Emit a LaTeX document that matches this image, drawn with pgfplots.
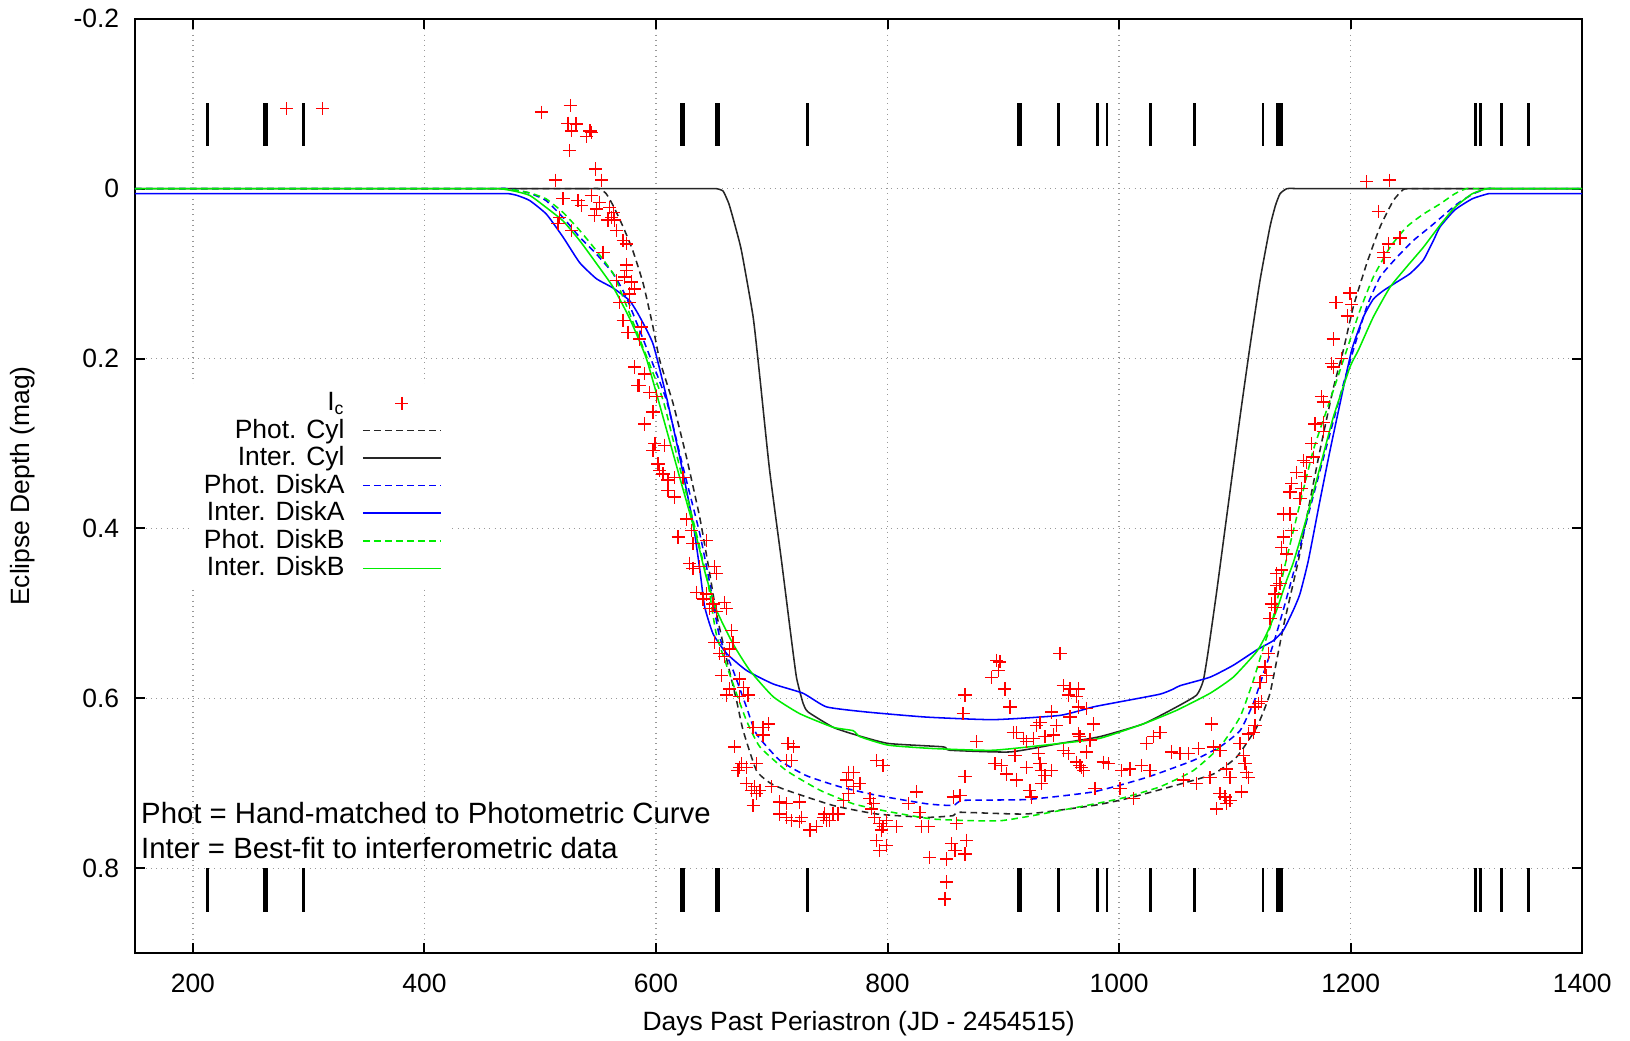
\documentclass[border=0pt]{standalone}
\usepackage{fontspec}
\setmainfont{Liberation Sans}
\usepackage{pgfplots}
\pgfplotsset{compat=1.18}
\pgfplotsset{
  leg/.style={legend image code/.code={\draw[mark repeat=2,mark phase=2] plot coordinates {(0cm,0cm) (0.62cm,0cm) (1.245cm,0cm)};}},
  curve/.style={line width=0.7pt, smooth, tension=0.3, leg},
}
\definecolor{cblue}{rgb}{0,0,1}
\definecolor{cgreen}{rgb}{0,0.93,0}

% bars: observation epochs (days)
\pgfplotstableread{
x y
212.6 -0.1006
212.6 -0.0496
212.6 nan
295.2 -0.1006
295.2 -0.0496
295.2 nan
730.9 -0.1006
730.9 -0.0496
730.9 nan
1027.3 -0.1006
1027.3 -0.0496
1027.3 nan
1124.3 -0.1006
1124.3 -0.0496
1124.3 nan
1307.5 -0.1006
1307.5 -0.0496
1307.5 nan
1312 -0.1006
1312 -0.0496
1312 nan
1330 -0.1006
1330 -0.0496
1330 nan
947.3 -0.1006
947.3 -0.0496
947.3 nan
981.5 -0.1006
981.5 -0.0496
981.5 nan
989.5 -0.1006
989.5 -0.0496
989.5 nan
1065 -0.1006
1065 -0.0496
1065 nan
1353.4 -0.1006
1353.4 -0.0496
1353.4 nan
212.6 0.800
212.6 0.851
212.6 nan
295.2 0.800
295.2 0.851
295.2 nan
730.9 0.800
730.9 0.851
730.9 nan
1027.3 0.800
1027.3 0.851
1027.3 nan
1124.3 0.800
1124.3 0.851
1124.3 nan
1307.5 0.800
1307.5 0.851
1307.5 nan
1312 0.800
1312 0.851
1312 nan
1330 0.800
1330 0.851
1330 nan
947.3 0.800
947.3 0.851
947.3 nan
981.5 0.800
981.5 0.851
981.5 nan
989.5 0.800
989.5 0.851
989.5 nan
1065 0.800
1065 0.851
1065 nan
1353.4 0.800
1353.4 0.851
}\barsthin
\pgfplotstableread{
x y
262.9 -0.1006
262.9 -0.0496
262.9 nan
623.1 -0.1006
623.1 -0.0496
623.1 nan
652.8 -0.1006
652.8 -0.0496
652.8 nan
914.1 -0.1006
914.1 -0.0496
914.1 nan
262.9 0.800
262.9 0.851
262.9 nan
623.1 0.800
623.1 0.851
623.1 nan
652.8 0.800
652.8 0.851
652.8 nan
914.1 0.800
914.1 0.851
}\barsthick
\pgfplotstableread{
x y
1138.7 -0.1006
1138.7 -0.0496
1138.7 nan
1138.7 0.800
1138.7 0.851
}\barsxthick

\pgfplotstableread{
x y
281 -0.094
312 -0.094
501 -0.090
526 -0.098
524 -0.077
531 -0.076
527 -0.068
543 -0.068
544 -0.066
540 -0.061
525 -0.045
548 -0.023
553 -0.010
513 -0.010
519.7 0.012
532.7 0.014
535.5 0.020
544 0.008
551 0.016
548.5 0.024
547 0.032
560 0.022
563 0.028
561.5 0.034
564.4 0.037
558.6 0.037
565.8 0.049
571.6 0.061
574.4 0.065
516.8 0.034
515.4 0.041
527 0.049
565.8 0.108
587.4 0.163
554.3 0.075
574.4 0.090
574.4 0.096
573 0.104
578.8 0.110
581.6 0.118
577.3 0.124
568.7 0.134
577.3 0.134
571.6 0.155
575.9 0.169
586 0.177
581.6 0.210
590.3 0.218
584.5 0.232
586 0.232
594.6 0.240
600.4 0.245
597.5 0.263
590.3 0.277
599 0.300
607.6 0.302
597.5 0.308
601.8 0.324
603.2 0.332
606.1 0.336
610.4 0.343
616.2 0.340
623.4 0.340
610.4 0.355
616.2 0.363
626.3 0.389
630.6 0.402
619.1 0.410
632 0.418
643.6 0.414
629.2 0.441
632 0.447
637.8 0.445
650.8 0.445
652.2 0.453
634.9 0.475
643.6 0.477
640.7 0.483
649.3 0.489
646.5 0.494
652.2 0.498
659.4 0.487
660.9 0.494
665.2 0.520
650.8 0.534
666.6 0.534
655.1 0.547
659.4 0.551
663.7 0.542
656.5 0.573
660.9 0.596
672.4 0.577
675.3 0.587
679.6 0.596
663.7 0.589
672.4 0.598
683.9 0.634
692.5 0.634
696.9 0.630
692.5 0.643
668 0.657
672.4 0.681
673.8 0.677
670.9 0.685
678.1 0.681
686.8 0.677
714.1 0.653
718.5 0.657
712.7 0.673
717 0.673
678.1 0.700
682.5 0.708
685.3 0.704
686.8 0.712
689.7 0.708
699.7 0.704
683.9 0.726
706.9 0.722
712.7 0.724
724.2 0.722
706.9 0.736
712.7 0.740
717 0.744
724.2 0.745
725.7 0.740
732.9 0.755
738.6 0.751
744.4 0.740
747.3 0.744
750.1 0.744
745.8 0.736
753 0.736
757.3 0.736
761.7 0.720
766 0.687
770.3 0.687
764.5 0.696
770.3 0.704
776.1 0.700
766 0.712
784.7 0.718
787.6 0.724
786.1 0.730
789 0.740
793.3 0.747
796.2 0.751
794.8 0.755
799.1 0.744
790.5 0.673
796.2 0.679
807.7 0.751
799.1 0.773
790.5 0.767
793.3 0.779
825 0.710
817.8 0.724
827.9 0.734
829.3 0.751
835.1 0.751
836.5 0.787
851 0.789
851 0.816
849.5 0.836
856.7 0.716
862.5 0.714
859.6 0.747
855.3 0.771
858.2 0.779
868.2 0.767
866.8 0.783
866.8 0.692
866.8 0.596
865.3 0.618
876.9 0.651
892.7 0.677
894.2 0.555
889.8 0.575
895.6 0.567
897 0.557
901.3 0.589
905.7 0.610
948.9 0.547
951.8 0.585
957.5 0.589
964.7 0.589
956.1 0.596
963.3 0.598
964.7 0.610
971.9 0.612
941.7 0.616
957.5 0.622
977.7 0.630
946 0.632
931.6 0.628
928.7 0.632
911.4 0.640
908.5 0.640
917.2 0.647
920 0.651
925.8 0.647
935.9 0.645
943.1 0.643
964.7 0.642
966.1 0.645
974.8 0.649
951.8 0.661
956.1 0.665
910 0.667
930.1 0.665
971.9 0.663
898.5 0.679
920 0.681
931.6 0.677
933 0.685
941.7 0.685
935.9 0.691
963.3 0.675
966.1 0.679
969 0.685
967.6 0.681
902.8 0.689
911.4 0.696
933 0.700
922.9 0.708
924.4 0.716
986.3 0.675
990.6 0.677
1002.2 0.685
1009.3 0.683
1019.4 0.679
1026.6 0.685
1023.7 0.653
1029.5 0.645
1035.3 0.640
1045.4 0.663
1052.6 0.665
1059.8 0.665
1068.4 0.659
1079.9 0.630
1081.4 0.657
1087.1 0.661
1078.5 0.693
1055.4 0.696
1067 0.700
1092.9 0.683
1095.8 0.693
1104.4 0.653
1111.6 0.642
1117.4 0.632
1116 0.640
1107.3 0.667
1108.7 0.677
1110.2 0.687
1111.6 0.693
1105.8 0.710
1087.1 0.712
1091.4 0.716
1092.9 0.724
1084.2 0.730
1095.8 0.720
979.1 0.706
1000.7 0.706
1012.2 0.718
1128.9 0.547
1126 0.563
1127.4 0.573
1121.7 0.581
1120.2 0.606
1123.1 0.604
1117.4 0.610
1183.6 0.206
1185 0.210
1192.2 0.200
1174.9 0.245
1176.4 0.251
1169.2 0.277
1176.4 0.275
1176.4 0.286
1166.3 0.300
1167.7 0.316
1159.1 0.320
1162 0.322
1153.3 0.334
1160.5 0.339
1149 0.347
1157.7 0.353
1147.6 0.357
1156.2 0.365
1141.8 0.383
1147.6 0.383
1149 0.402
1141.8 0.410
1140.4 0.422
1144.7 0.430
1140.4 0.449
1136 0.453
1138.9 0.465
1136 0.467
1134.6 0.477
1131.7 0.489
1134.6 0.493
1130.3 0.506
1213.9 -0.008
1233.4 -0.010
1223.9 0.027
1232.6 0.065
1242.7 0.058
1228.3 0.075
1228.8 0.081
1199.4 0.123
1187.4 0.134
1200.9 0.136
1197.1 0.150
1185 0.177
}\icdata

\pgfplotstableread{
x y
150 0
520 0
530 0
541 0
551 0
557 0.006
563 0.020
571.6 0.045
580 0.073
589 0.112
597 0.160
603.2 0.202
614.8 0.253
626.3 0.316
637.8 0.387
646 0.450
652.2 0.500
660.9 0.553
669.5 0.602
675.3 0.638
686.8 0.685
699 0.700
712.7 0.708
753 0.726
790.5 0.736
833.7 0.740
856.7 0.738
862.5 0.734
920 0.736
977.7 0.726
1006.5 0.718
1049.7 0.702
1081.4 0.689
1101.5 0.669
1118.8 0.634
1130.3 0.594
1141.8 0.516
1154.8 0.438
1162 0.387
1173.5 0.308
1185 0.235
1193.7 0.190
1202.3 0.139
1213.9 0.088
1225.4 0.045
1236.9 0.014
1245.5 0.001
1253 0
1262 0
1272 0
1282 0
1400 0
}\photcyl

\pgfplotstableread{
x y
150 0
620 0
630 0
641 0
652 0
658 0.003
663 0.018
668 0.042
673.8 0.073
683.9 0.151
689.7 0.222
698 0.330
708.4 0.438
715.6 0.516
721.3 0.575
727.1 0.606
731.4 0.616
753 0.634
770.3 0.642
800.5 0.653
848.1 0.657
853.8 0.661
905.7 0.663
948.9 0.653
983.4 0.645
1020.9 0.630
1049.7 0.610
1067 0.596
1072.7 0.579
1077 0.544
1084.2 0.475
1092.8 0.387
1104.4 0.269
1113 0.186
1121.7 0.108
1130.3 0.045
1135 0.020
1139 0.006
1145 0
1155 0
1165 0
1175 0
1400 0
}\intercyl

\pgfplotstableread{
x y
150 0
440 0
450 0
461 0
472 0
490 0.005
505 0.014
519.7 0.034
534 0.057
548.5 0.077
563 0.100
574.4 0.128
591.7 0.187
609 0.249
623.4 0.328
637.8 0.406
646.5 0.465
655 0.528
666.6 0.567
678.1 0.610
686.8 0.642
707 0.673
730 0.691
758.8 0.704
790.5 0.714
833.7 0.724
856.7 0.726
865.3 0.720
920 0.719
977.7 0.710
1023.8 0.693
1064 0.673
1087.1 0.657
1104.4 0.638
1115.9 0.606
1124.6 0.571
1133.2 0.536
1141.8 0.496
1153.4 0.438
1159.1 0.406
1170.6 0.347
1182.2 0.288
1193.7 0.230
1202.3 0.190
1213.9 0.139
1225.4 0.104
1239.8 0.081
1254.2 0.061
1268.6 0.045
1277.2 0.035
1292 0.018
1306 0.006
1318 0
1328 0
1338 0
1348 0
1400 0
}\photdiska

\pgfplotstableread{
x y
150 0.006
441 0.006
451 0.006
462 0.006
473 0.006
480 0.008
490.9 0.014
505.3 0.030
519.7 0.057
534 0.087
548.5 0.106
563 0.117
577.3 0.132
586 0.151
597.5 0.183
609 0.245
620.5 0.316
632 0.394
638 0.450
642 0.492
649.3 0.524
660.9 0.547
678.1 0.567
701.2 0.583
727.1 0.594
747.3 0.610
781.8 0.616
833.7 0.622
891.3 0.625
948.9 0.620
977.7 0.610
1000.7 0.604
1035.3 0.595
1046.8 0.589
1052.6 0.585
1078.5 0.575
1098.6 0.561
1118.8 0.543
1133.2 0.532
1141.8 0.520
1150.5 0.496
1156.2 0.477
1163.4 0.438
1173.5 0.367
1182.2 0.308
1190.8 0.253
1200.9 0.190
1211 0.151
1219.6 0.130
1228.3 0.120
1239.8 0.110
1251.3 0.100
1262.8 0.084
1271.5 0.061
1277.2 0.045
1290 0.025
1305 0.012
1319 0.006
1329 0.006
1339 0.006
1349 0.006
1400 0.006
}\interdiska

\pgfplotstableread{
x y
150 0
436 0
446 0
457 0
468 0
480 0.002
491 0.005
505 0.012
519.7 0.028
534 0.049
548.5 0.073
563 0.100
571.6 0.128
588.8 0.187
606.1 0.249
620.5 0.328
634.9 0.406
645 0.465
652.2 0.525
666.6 0.583
678.1 0.626
689.7 0.657
712.7 0.685
741.5 0.708
770.3 0.724
796.2 0.732
839.4 0.742
897 0.744
948.9 0.732
1000.7 0.718
1035.3 0.704
1064 0.685
1087.1 0.657
1104.4 0.622
1115.9 0.579
1124.6 0.540
1133.2 0.504
1143 0.445
1153.3 0.387
1167.7 0.308
1182.2 0.249
1196.6 0.190
1208.1 0.143
1219.6 0.104
1234 0.069
1248.4 0.045
1262.8 0.030
1277.2 0.018
1290 0.006
1300 0
1310 0
1320 0
1330 0
1400 0
}\photdiskb

\pgfplotstableread{
x y
150 0
433 0
443 0
454 0
465 0
478 0.003
491 0.008
505 0.022
519.7 0.038
534 0.061
548.5 0.088
563 0.116
577.3 0.153
591.7 0.200
606.1 0.269
620.5 0.340
634.9 0.410
643 0.455
652.2 0.496
666.6 0.536
681 0.567
701.2 0.598
724.2 0.618
753 0.634
770.3 0.638
776.1 0.645
800.5 0.655
839.4 0.659
891.3 0.661
948.9 0.653
983.4 0.647
1020.9 0.630
1049.7 0.614
1078.5 0.594
1098.6 0.575
1118.8 0.545
1127.4 0.524
1136.1 0.496
1144.7 0.461
1150.5 0.440
1162 0.387
1173.5 0.328
1185 0.269
1199.4 0.210
1206.7 0.190
1219.6 0.151
1234 0.116
1248.4 0.092
1262.8 0.069
1277.2 0.043
1290 0.022
1305 0.006
1318 0
1328 0
1338 0
1348 0
1400 0
}\interdiskb

\begin{document}
\fontsize{12}{14}\selectfont
\begin{tikzpicture}
\begin{axis}[
  scale only axis, width=23.08cm, height=14.905cm,
  xmin=150, xmax=1400, ymin=-0.2, ymax=0.9, y dir=reverse,
  xtick={200,400,...,1400}, ytick={-0.2,0,0.2,0.4,0.6,0.8},
  xticklabels={200,400,600,800,1000,1200,1400},
  yticklabels={-0.2,0,0.2,0.4,0.6,0.8},
  /pgf/number format/assume math mode=true,
  tick label style={font=\fontsize{12}{14}\selectfont},
  xticklabel style={yshift=-5pt},
  yticklabel style={xshift=-3pt},
  tick align=inside, tick pos=both, major tick length=0.166cm,
  axis line style={line width=0.9pt},
  every tick/.style={black, line width=0.9pt},
  grid=major, grid style={gray!80, dotted, line width=0.6pt},
  xlabel={Days Past Periastron (JD - 2454515)},
  ylabel={Eclipse Depth (mag)},
  x label style={at={(axis description cs:0.5,0)}, anchor=center, yshift=-1.13cm},
  y label style={at={(axis description cs:0,0.5)}, anchor=center, yshift=1.79cm},
  legend plot pos=right, legend cell align=right,
  legend style={at={(axis cs:423,0.229)}, anchor=north east, draw=none, fill=white,
    inner xsep=4pt, inner ysep=2pt, row sep=-2pt, column sep=6pt,
    font=\fontsize{12}{14}\selectfont},
  unbounded coords=jump,
]
\addplot[black, line width=1.3pt, forget plot] table {\barsthin};
\addplot[black, line width=2.2pt, forget plot] table {\barsthick};
\addplot[black, line width=3.2pt, forget plot] table {\barsxthick};

\addplot[only marks, mark=+, red, mark size=3pt, mark options={line width=0.6pt}, leg] table {\icdata};
\addlegendentry{I\textsubscript{c}}
\addplot[curve, black!85, dash pattern=on 3pt off 2pt] table {\photcyl};
\addlegendentry{Phot. Cyl}
\addplot[curve, black!85] table {\intercyl};
\addlegendentry{Inter. Cyl}
\addplot[curve, cblue, dash pattern=on 3pt off 2pt] table {\photdiska};
\addlegendentry{Phot. DiskA}
\addplot[curve, cblue] table {\interdiska};
\addlegendentry{Inter. DiskA}
\addplot[curve, cgreen, dash pattern=on 3pt off 2pt] table {\photdiskb};
\addlegendentry{Phot. DiskB}
\addplot[curve, cgreen] table {\interdiskb};
\addlegendentry{Inter. DiskB}

\node[anchor=west, inner sep=0pt, font=\fontsize{13.3}{16}\selectfont] at (axis cs:155,0.735) {Phot = Hand-matched to Photometric Curve};
\node[anchor=west, inner sep=0pt, font=\fontsize{13.3}{16}\selectfont] at (axis cs:155,0.776) {Inter = Best-fit to interferometric data};
\end{axis}
\pgfresetboundingbox
\path[use as bounding box] (-2.153cm,-1.385cm) rectangle (23.842cm,15.203cm);
\end{tikzpicture}
\end{document}
